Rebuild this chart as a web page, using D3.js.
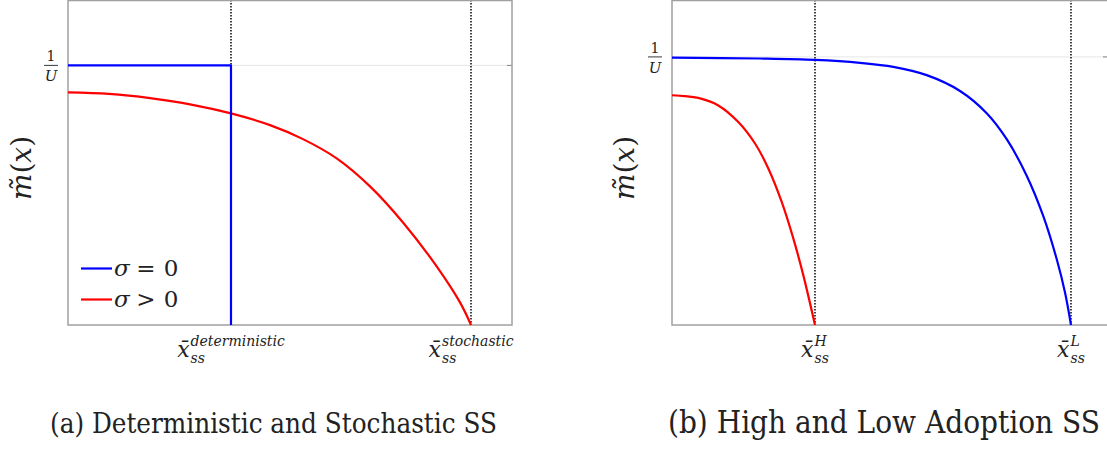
<!DOCTYPE html>
<html>
<head>
<meta charset="utf-8">
<script src="https://cdn.jsdelivr.net/npm/d3@7"></script>
<style>
  html, body { margin: 0; padding: 0; background: #fff; }
  svg { display: block; }
</style>
</head>
<body>
<svg id="fig" width="1107" height="450"></svg>
<script>
// Panel (a): deterministic vs stochastic steady state
const detX = [0, 3.671, 3.671];
const detM = [1, 1, 0];
const stochX = [0, 0.923, 1.847, 2.748, 3.671, 4.550, 5.293, 6.059, 6.802, 7.545, 8.311, 8.829, 9.077];
const stochM = [0.896, 0.890, 0.874, 0.850, 0.815, 0.770, 0.716, 0.641, 0.534, 0.395, 0.224, 0.087, 0];
const ssA = [3.671, 9.077];
const ssALabels = ["deterministic", "stochastic"];

// Panel (b): high vs low adoption steady state
const highX = [0, 0.298, 0.603, 1.062, 1.521, 1.904, 2.209, 2.516, 2.782, 3.011, 3.280];
const highM = [0.857, 0.854, 0.847, 0.819, 0.757, 0.677, 0.584, 0.459, 0.323, 0.186, 0];
const lowX = [0, 2.018, 3.280, 4.312, 5.076, 5.842, 6.606, 7.218, 7.677, 8.135, 8.516, 8.823, 9.014, 9.151];
const lowM = [0.997, 0.994, 0.989, 0.978, 0.963, 0.932, 0.873, 0.790, 0.693, 0.557, 0.406, 0.246, 0.121, 0];
const ssB = [3.280, 9.151];
const ssBLabels = ["H", "L"];

const legendSymbols = ["=", ">"];
const captions = ["(a) Deterministic and Stochastic SS", "(b) High and Low Adoption SS"];

const BLUE = "#0000ff", RED = "#ff0000";
const SERIF = "'DejaVu Serif', serif";
const CAPTION = "'DejaVu Serif Condensed', 'DejaVu Serif', serif";
const svg = d3.select("#fig").style("font-family", SERIF);

function zip(xs, ys) { return xs.map((x, i) => ({ x, y: ys[i] })); }
function txt(sel, fam) { return sel.append("text").style("font-family", fam || SERIF).attr("fill", "#222"); }

function panel(opts) {
  const x = d3.scaleLinear().domain([0, 10]).range(opts.xr);
  const y = d3.scaleLinear().domain([0, opts.ytop]).range([325, 0.5]);
  const g = svg.append("g");
  const [x0, x1] = opts.xr;

  // gridline at 1/U
  g.append("line").attr("x1", x0).attr("x2", x1).attr("y1", y(1)).attr("y2", y(1))
    .attr("stroke", "#e6e6e6").attr("stroke-width", 1);
  // right-side tick at 1/U
  g.append("line").attr("x1", x1 - 5).attr("x2", x1).attr("y1", y(1)).attr("y2", y(1))
    .attr("stroke", "#888").attr("stroke-width", 1);

  // steady-state markers
  opts.ss.forEach(v => {
    g.append("line").attr("x1", x(v)).attr("x2", x(v)).attr("y1", 0).attr("y2", 325)
      .attr("stroke", "#444").attr("stroke-width", 2).attr("stroke-dasharray", "1.5,1.5");
  });

  // frame
  g.append("rect").attr("x", x0).attr("y", 0.5).attr("width", x1 - x0).attr("height", 324.5)
    .attr("fill", "none").attr("stroke", "#a0a0a0").attr("stroke-width", 1.5);

  // series
  opts.series.forEach(s => {
    const line = d3.line().x(d => x(d.x)).y(d => y(d.y)).curve(s.curve);
    g.append("path").datum(zip(s.xs, s.ys)).attr("d", line)
      .attr("fill", "none").attr("stroke", s.color).attr("stroke-width", 2.2)
      .attr("stroke-linejoin", "round");
  });

  // 1/U tick label as a stacked fraction
  const fx = x0 - 17, fy = y(1);
  txt(g).attr("x", fx).attr("y", fy - 4).attr("text-anchor", "middle")
    .attr("font-size", 14).text("1");
  g.append("line").attr("x1", fx - 7).attr("x2", fx + 7).attr("y1", fy).attr("y2", fy)
    .attr("stroke", "#222").attr("stroke-width", 0.9);
  txt(g).attr("x", fx).attr("y", fy + 16).attr("text-anchor", "middle")
    .attr("font-size", 15).attr("font-style", "italic").text("U");

  // y-axis title
  const yt = txt(g).attr("transform", `translate(${opts.ylabX},168) rotate(-90)`)
    .attr("text-anchor", "middle").attr("dominant-baseline", "central").attr("font-size", 28);
  yt.append("tspan").attr("font-style", "italic").text("m\u0303");
  yt.append("tspan").text("(");
  yt.append("tspan").attr("font-style", "italic").text("x");
  yt.append("tspan").text(")");

  // x tick labels: x-bar with subscript ss and a superscript tag
  opts.ss.forEach((v, i) => {
    const lg = g.append("g");
    const base = txt(lg).attr("x", 0).attr("y", 357).attr("font-size", 22)
      .attr("font-style", "italic").text("x\u0304");
    const w = base.node().getComputedTextLength();
    const sup = txt(lg).attr("x", w + 1).attr("y", 346).attr("font-size", 14)
      .attr("font-style", "italic").text(opts.ssLabels[i]);
    const sub = txt(lg).attr("x", w + 1).attr("y", 363).attr("font-size", 14)
      .attr("font-style", "italic").text("ss");
    const tw = w + 1 + Math.max(sup.node().getComputedTextLength(), sub.node().getComputedTextLength());
    lg.attr("transform", `translate(${x(v) - tw / 2},0)`);
  });

  return { x, y, g };
}

const smooth = d3.curveCatmullRom.alpha(0.5);

const A = panel({
  xr: [68, 512], ytop: 1.25, ss: ssA, ssLabels: ssALabels, ylabX: 21,
  series: [
    { xs: stochX, ys: stochM, color: RED, curve: smooth },
    { xs: detX, ys: detM, color: BLUE, curve: d3.curveLinear }
  ]
});

const B = panel({
  xr: [672, 1108], ytop: 325 / 268.5, ss: ssB, ssLabels: ssBLabels, ylabX: 624,
  series: [
    { xs: highX, ys: highM, color: RED, curve: smooth },
    { xs: lowX, ys: lowM, color: BLUE, curve: smooth }
  ]
});

// legend in panel (a)
[BLUE, RED].forEach((c, i) => {
  const ly = 268.5 + i * 31;
  A.g.append("line").attr("x1", 81).attr("x2", 112).attr("y1", ly).attr("y2", ly)
    .attr("stroke", c).attr("stroke-width", 2.2);
  txt(A.g).attr("x", 114).attr("y", ly + 7).attr("font-size", 23)
    .attr("font-style", "italic").text("\u03c3");
  txt(A.g).attr("x", 146).attr("y", ly + 7).attr("font-size", 23)
    .attr("text-anchor", "middle").text(legendSymbols[i]);
  txt(A.g).attr("x", 171).attr("y", ly + 7).attr("font-size", 23)
    .attr("text-anchor", "middle").text("0");
});

// sub-figure captions, fitted to their column widths
[[50, 497], [668, 1100]].forEach(([l, r], i) => {
  const t = txt(svg, CAPTION).attr("x", l).attr("y", 433).attr("font-size", 26).text(captions[i]);
  const w = t.node().getComputedTextLength();
  t.attr("font-size", 26 * (r - l) / w);
});
</script>
</body>
</html>
